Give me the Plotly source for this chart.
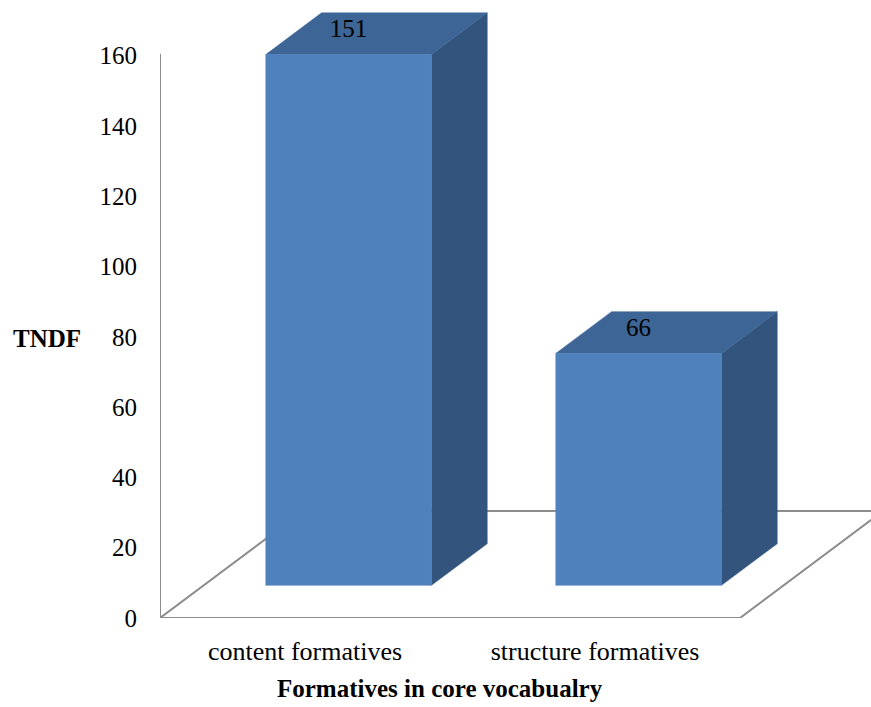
import plotly.graph_objects as go

# Data
categories = ["content formatives", "structure formatives"]
values = [151, 66]
y_ticks = [0, 20, 40, 60, 80, 100, 120, 140, 160]
y_title = "TNDF"
x_title = "Formatives in core vocabualry"

# Pseudo-3D geometry (in axis units)
W, H = 871, 707
PLOT_L, PLOT_B = 160, 89          # margins in px
PX_PER_CAT = 290.0                # px per category step
PX_PER_VAL = 3.515                # px per value unit
CAT0_PX = 305.0                   # px of category 0 on the front plane
DEPTH_DX = 143.0 / PX_PER_CAT     # x offset of full floor depth
DEPTH_DY = 107.0 / PX_PER_VAL     # y offset of full floor depth
D0, D1 = 0.305, 0.695             # bar depth span within the floor
BAR_W = 1 / 1.75                  # 75% gap width

plot_h = H - PLOT_B
plot_w = W - PLOT_L
x_range = [(PLOT_L - CAT0_PX) / PX_PER_CAT, (W - CAT0_PX) / PX_PER_CAT]
y_range = [0, plot_h / PX_PER_VAL]

FRONT = "#4F81BD"
TOP = "#3D6595"
SIDE = "#33547D"
GRID = "#8C8C8C"
FONT = "Liberation Serif, Times New Roman, serif"

fig = go.Figure()


def poly(xs, ys, color):
    fig.add_trace(go.Scatter(
        x=xs + [xs[0]], y=ys + [ys[0]], mode="lines", fill="toself",
        fillcolor=color, line=dict(color=color, width=0.5),
        hoverinfo="skip", showlegend=False))


# Floor outline
n = len(categories)
fx0, fx1 = -0.5, n - 0.5
fig.add_trace(go.Scatter(
    x=[fx0, fx1, fx1 + DEPTH_DX, fx0 + DEPTH_DX, fx0],
    y=[0, 0, DEPTH_DY, DEPTH_DY, 0],
    mode="lines", line=dict(color=GRID, width=2),
    hoverinfo="skip", showlegend=False))

# Value axis line
fig.add_trace(go.Scatter(
    x=[fx0, fx0], y=[0, y_ticks[-1] + 0.5], mode="lines",
    line=dict(color=GRID, width=2), hoverinfo="skip", showlegend=False))

# Bars
ox0, oy0 = D0 * DEPTH_DX, D0 * DEPTH_DY
ox1, oy1 = D1 * DEPTH_DX, D1 * DEPTH_DY
label_x, label_y = [], []
for i, v in enumerate(values):
    l = i - BAR_W / 2 + ox0
    r = i + BAR_W / 2 + ox0
    b = oy0
    t = oy0 + v
    ddx, ddy = ox1 - ox0, oy1 - oy0
    # side face
    poly([r, r + ddx, r + ddx, r], [b, b + ddy, t + ddy, t], SIDE)
    # top face
    poly([l, r, r + ddx, l + ddx], [t, t, t + ddy, t + ddy], TOP)
    # front face
    poly([l, r, r, l], [b, b, t, t], FRONT)
    label_x.append((l + r) / 2)
    label_y.append(t + 24 / PX_PER_VAL)

fig.add_trace(go.Scatter(
    x=label_x, y=label_y, mode="text", text=[str(v) for v in values],
    textposition="middle center",
    textfont=dict(family=FONT, size=25, color="black"),
    hoverinfo="skip", showlegend=False, cliponaxis=False))

fig.update_layout(
    width=W, height=H,
    margin=dict(l=PLOT_L, r=0, t=0, b=PLOT_B),
    paper_bgcolor="white", plot_bgcolor="white",
    font=dict(family=FONT, color="black"),
    xaxis=dict(range=x_range, showgrid=False, zeroline=False, showline=False,
               tickvals=list(range(n)), ticktext=categories, ticks="",
               ticklabelstandoff=15,
               tickfont=dict(family=FONT, size=26, color="black"),
               fixedrange=True),
    yaxis=dict(range=y_range, showgrid=False, zeroline=False, showline=False,
               tickvals=y_ticks, ticktext=[str(t) for t in y_ticks], ticks="",
               ticklabelstandoff=22,
               tickfont=dict(family=FONT, size=25, color="black"),
               fixedrange=True),
    annotations=[
        dict(text="<b>" + y_title + "</b>", xref="paper", yref="paper",
             x=(47 - PLOT_L) / plot_w, y=(plot_h - 338) / plot_h,
             showarrow=False, font=dict(family=FONT, size=25, color="black"),
             xanchor="center", yanchor="middle"),
        dict(text="<b>" + x_title + "</b>", xref="paper", yref="paper",
             x=(440 - PLOT_L) / plot_w, y=(plot_h - 688) / plot_h,
             showarrow=False, font=dict(family=FONT, size=25, color="black"),
             xanchor="center", yanchor="middle"),
    ],
)

fig.write_html("out.html")
